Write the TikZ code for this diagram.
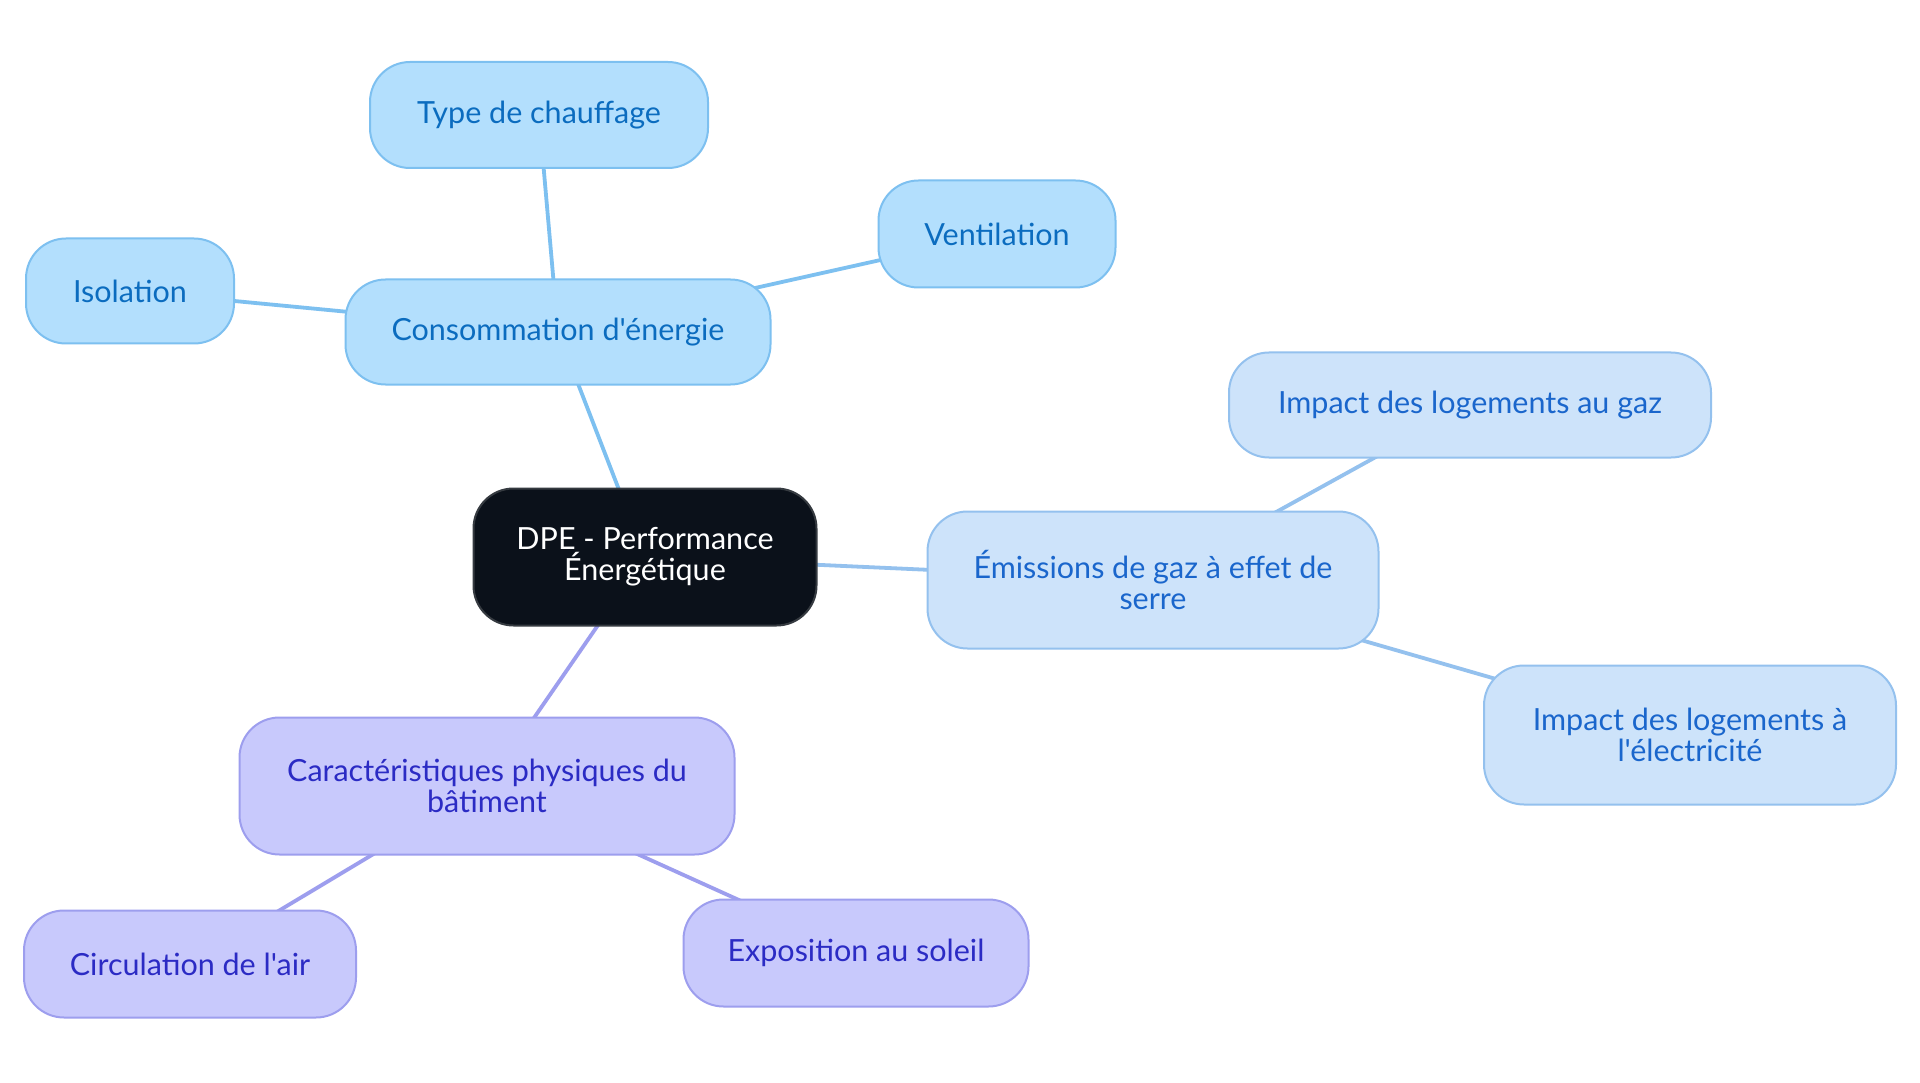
\documentclass[tikz,border=0pt]{standalone}
\usepackage{fontspec}
\setmainfont{Lato}[Ligatures=TeXOff]
\usetikzlibrary{backgrounds}
\definecolor{cfillA}{HTML}{B3DFFD}
\definecolor{cdrawA}{HTML}{7DC0F0}
\definecolor{ctextA}{HTML}{0B6CBF}
\definecolor{cfillB}{HTML}{CDE3FA}
\definecolor{cdrawB}{HTML}{94C1EE}
\definecolor{ctextB}{HTML}{1A66CC}
\definecolor{cfillC}{HTML}{C8C9FC}
\definecolor{cdrawC}{HTML}{9D9EEE}
\definecolor{ctextC}{HTML}{2B2BC4}
\definecolor{cfillM}{HTML}{0B111A}
\definecolor{cdrawM}{HTML}{353A40}
\tikzset{
  box/.style={rounded corners=40pt, line width=2pt, align=center, inner sep=0pt,
    font=\fontsize{30.5}{31}\selectfont},
  mainbox/.style={box, fill=cfillM, draw=cdrawM, text=white},
  boxA/.style={box, fill=cfillA, draw=cdrawA, text=ctextA},
  boxB/.style={box, fill=cfillB, draw=cdrawB, text=ctextB},
  boxC/.style={box, fill=cfillC, draw=cdrawC, text=ctextC},
  edgeA/.style={draw=cdrawA, line width=3.8pt},
  edgeB/.style={draw=cdrawB, line width=3.8pt},
  edgeC/.style={draw=cdrawC, line width=3.8pt},
}
\begin{document}
\begin{tikzpicture}[x=1pt,y=-1pt]
\useasboundingbox (0,0) rectangle (1920,1083);
\node[mainbox, minimum width=343pt, minimum height=137pt] (dpe) at (645,557) {DPE - Performance\\Énergétique};
\node[boxA, minimum width=425pt, minimum height=105pt] (cons) at (558,332) {Consommation d'énergie};
\node[boxA, minimum width=338pt, minimum height=106pt] (type) at (539,115) {Type de chauffage};
\node[boxA, minimum width=237pt, minimum height=107pt] (vent) at (997,234) {Ventilation};
\node[boxA, minimum width=208pt, minimum height=105pt] (iso) at (130,291) {Isolation};
\node[boxB, minimum width=451pt, minimum height=137pt] (emis) at (1153,580) {Émissions de gaz à effet de\\serre};
\node[boxB, minimum width=482pt, minimum height=105pt] (gaz) at (1470,405) {Impact des logements au gaz};
\node[boxB, minimum width=412pt, minimum height=139pt] (elec) at (1690,735) {Impact des logements à\\l'électricité};
\node[boxC, minimum width=495pt, minimum height=137pt] (cara) at (487,786) {Caractéristiques physiques du\\bâtiment};
\node[boxC, minimum width=332pt, minimum height=107pt] (circ) at (190,964) {Circulation de l'air};
\node[boxC, minimum width=345pt, minimum height=107pt] (expo) at (856,953) {Exposition au soleil};
\begin{scope}[on background layer]
\fill[white] (0,0) rectangle (1920,1083);
\draw[edgeA] (dpe.center) -- (cons.center);
\draw[edgeA] (cons.center) -- (type.center);
\draw[edgeA] (cons.center) -- (vent.center);
\draw[edgeA] (cons.center) -- (iso.center);
\draw[edgeB] (dpe.center) -- (emis.center);
\draw[edgeB] (emis.center) -- (gaz.center);
\draw[edgeB] (emis.center) -- (elec.center);
\draw[edgeC] (dpe.center) -- (cara.center);
\draw[edgeC] (cara.center) -- (circ.center);
\draw[edgeC] (cara.center) -- (expo.center);
\end{scope}
\end{tikzpicture}
\end{document}
